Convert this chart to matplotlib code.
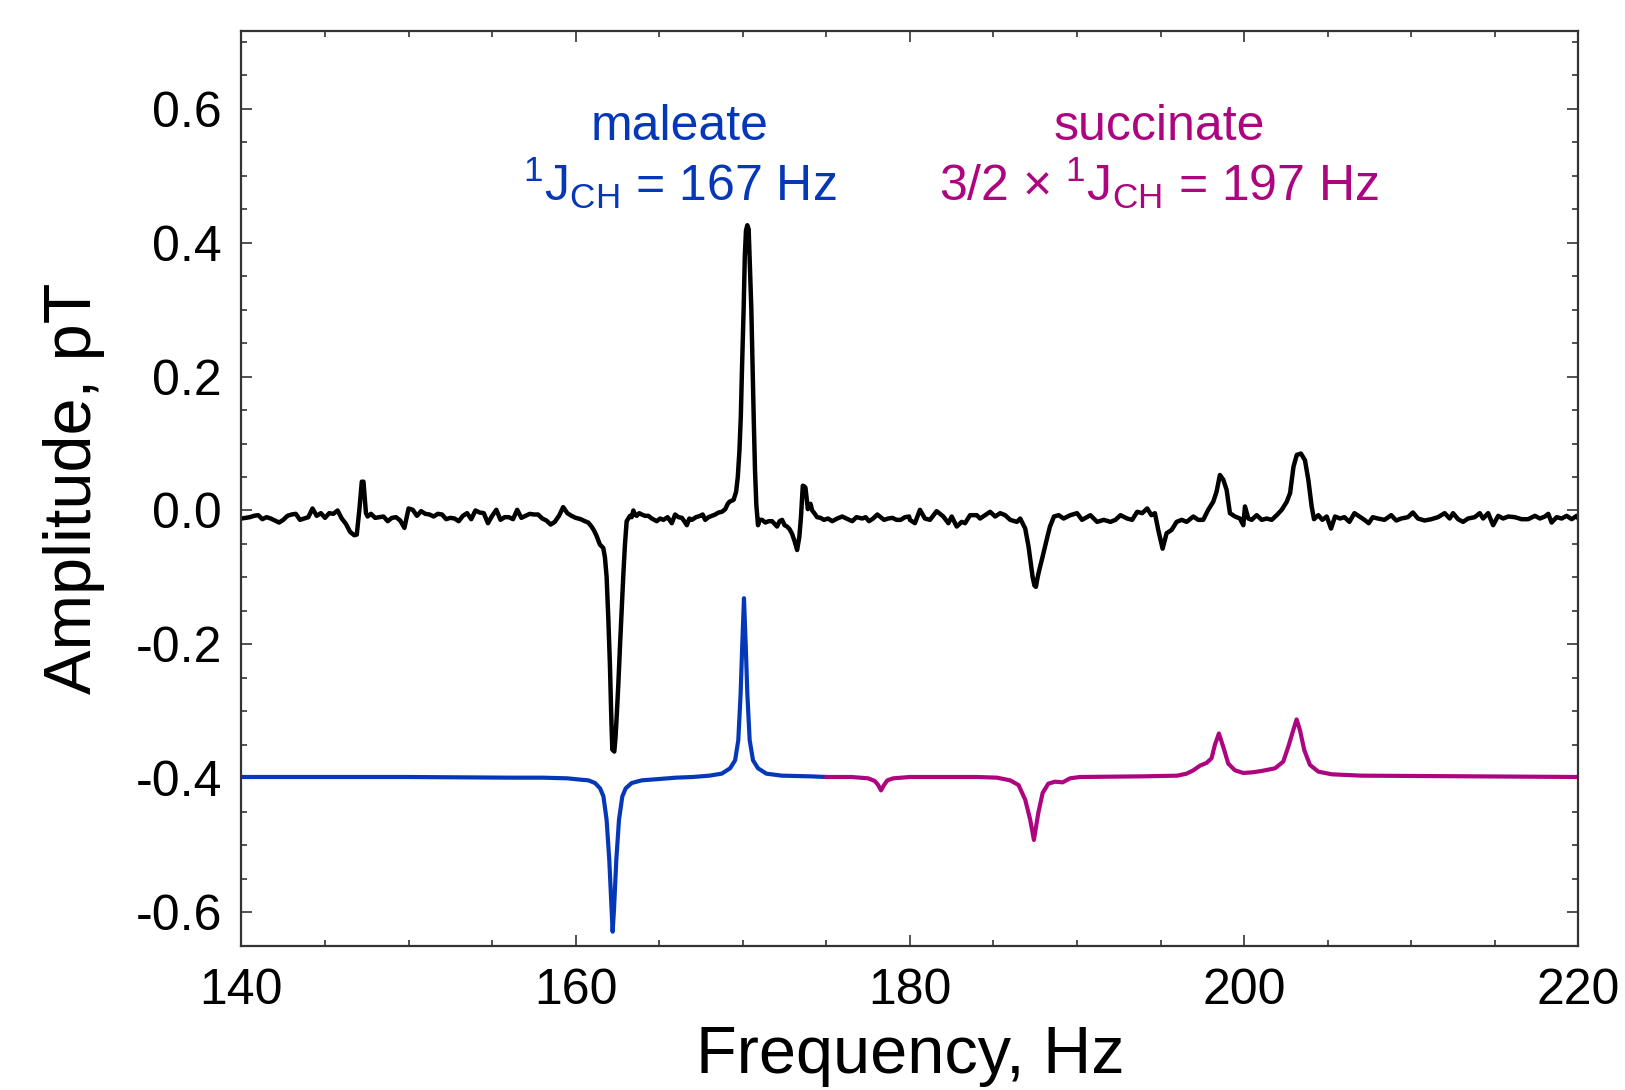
import matplotlib
matplotlib.use('Agg')
import matplotlib.pyplot as plt
from matplotlib.ticker import MultipleLocator

plt.rcParams['font.family'] = ['Liberation Sans', 'DejaVu Sans']
plt.rcParams['mathtext.fontset'] = 'custom'
plt.rcParams['mathtext.rm'] = 'Liberation Sans'
plt.rcParams['mathtext.it'] = 'Liberation Sans'

## measured spectrum (black) ##
black_freq = [
    140.00, 140.25, 140.50, 140.75, 141.00, 141.25, 141.50, 141.75, 142.00, 142.25,
    142.50, 142.75, 143.00, 143.25, 143.50, 143.75, 144.00, 144.25, 144.50, 144.75,
    145.00, 145.25, 145.50, 145.75, 146.00, 146.25, 146.50, 146.75, 146.90, 147.05,
    147.20, 147.30, 147.45, 147.55, 147.75, 148.00, 148.25, 148.50, 148.75, 149.00,
    149.25, 149.50, 149.75, 150.00, 150.25, 150.50, 150.75, 151.00, 151.25, 151.50,
    151.75, 152.00, 152.25, 152.50, 152.75, 153.00, 153.25, 153.50, 153.75, 154.00,
    154.25, 154.50, 154.75, 155.00, 155.25, 155.50, 155.75, 156.00, 156.25, 156.50,
    156.75, 157.00, 157.25, 157.50, 157.75, 158.00, 158.25, 158.50, 158.75, 159.00,
    159.25, 159.50, 159.75,
    160.00, 160.30, 160.55, 160.75, 160.95, 161.10, 161.25, 161.45, 161.65, 161.75,
    161.85, 161.95, 162.05, 162.12, 162.19, 162.31, 162.38, 162.45, 162.55, 162.65,
    162.75, 162.85, 162.95, 163.05, 163.15, 163.25, 163.35, 163.45, 163.55, 163.65,
    163.80, 163.95, 164.15, 164.35, 164.55, 164.85, 165.05, 165.25, 165.50, 165.75,
    165.95, 166.15, 166.35, 166.50, 166.65, 166.80, 166.95, 167.20, 167.45, 167.60,
    167.75, 167.95, 168.15, 168.35, 168.55, 168.75, 168.95, 169.10, 169.20, 169.45,
    169.60, 169.70, 169.80, 169.88, 169.95, 170.05, 170.12, 170.19, 170.27, 170.35,
    170.43, 170.51, 170.58, 170.65, 170.73, 170.81, 170.91, 171.00, 171.15, 171.35,
    171.55, 171.75, 171.90, 172.05, 172.20, 172.35, 172.50, 172.65, 172.80, 172.95,
    173.10, 173.25, 173.38, 173.48, 173.59, 173.68, 173.75, 173.89, 173.97, 174.05,
    174.15, 174.25, 174.45, 174.65, 174.85, 175.10, 175.35, 175.65, 175.95, 176.20,
    176.55, 176.80, 177.15, 177.35, 177.55, 177.80, 178.05, 178.25, 178.45, 178.70,
    178.95, 179.20, 179.45, 179.70, 179.95,
    180.00, 180.30, 180.60, 180.90, 181.20, 181.60, 182.00, 182.30, 182.50, 182.80,
    183.10, 183.30, 183.60, 184.00, 184.20, 184.50, 184.80, 185.10, 185.40, 185.70,
    186.00, 186.40, 186.60, 186.90, 187.10, 187.34, 187.45, 187.54, 187.64, 187.74,
    187.94, 188.18, 188.38, 188.62, 188.90, 189.20, 189.60, 190.00, 190.30, 190.80,
    191.20, 191.60, 192.00, 192.30, 192.60, 193.00, 193.30, 193.60, 193.90, 194.20,
    194.45, 194.66, 194.86, 195.12, 195.36, 195.66, 195.96, 196.26, 196.56, 196.96,
    197.25, 197.55, 197.85, 198.15, 198.35, 198.55, 198.75, 198.95, 199.15, 199.45,
    199.75, 199.95, 200.05,
    200.25, 200.45, 200.75, 201.05, 201.35, 201.65, 201.95, 202.25, 202.55, 202.75,
    202.95, 203.15, 203.40, 203.64, 203.84, 204.04, 204.18, 204.44, 204.68, 204.94,
    205.20, 205.44, 205.74, 206.00, 206.30, 206.60, 206.90, 207.20, 207.45, 207.70,
    208.00, 208.40, 208.80, 209.10, 209.40, 209.80, 210.10, 210.40, 210.80, 211.20,
    211.60, 212.00, 212.30, 212.50, 212.80, 213.10, 213.40, 213.80, 214.10, 214.30,
    214.60, 214.90, 215.20, 215.50, 215.80, 216.20, 216.60, 217.00, 217.40, 217.70,
    218.00, 218.20, 218.40, 218.70, 219.00, 219.30, 219.60, 219.90, 220.00]
black_amp = [
    -0.012, -0.011, -0.010, -0.008, -0.007, -0.013, -0.010, -0.012, -0.015, -0.018,
    -0.014, -0.008, -0.006, -0.005, -0.014, -0.012, -0.010, 0.003, -0.008, -0.004,
    -0.011, -0.004, -0.005, 0.000, -0.012, -0.020, -0.032, -0.037, -0.036, 0.000,
    0.043, 0.043, -0.004, -0.009, -0.005, -0.011, -0.010, -0.009, -0.016, -0.011,
    -0.010, -0.015, -0.026, 0.003, 0.001, -0.008, -0.001, -0.005, -0.006, -0.009,
    -0.005, -0.006, -0.013, -0.011, -0.012, -0.016, -0.008, -0.004, -0.013, 0.000,
    -0.003, -0.004, -0.019, -0.008, 0.001, -0.014, -0.010, -0.010, -0.013, 0.001,
    -0.011, -0.008, -0.005, -0.006, -0.006, -0.012, -0.015, -0.021, -0.017, -0.008,
    0.005, -0.004, -0.008,
    -0.011, -0.013, -0.016, -0.018, -0.024, -0.030, -0.038, -0.051, -0.056, -0.070,
    -0.099, -0.160, -0.232, -0.300, -0.357, -0.360, -0.340, -0.309, -0.260, -0.203,
    -0.150, -0.096, -0.050, -0.016, -0.012, -0.008, -0.010, 0.000, -0.006, -0.008,
    -0.004, -0.006, -0.008, -0.008, -0.012, -0.016, -0.012, -0.014, -0.010, -0.019,
    -0.006, -0.010, -0.011, -0.016, -0.022, -0.012, -0.014, -0.010, -0.008, -0.006,
    -0.014, -0.010, -0.008, -0.006, -0.003, -0.002, 0.002, 0.010, 0.013, 0.016,
    0.028, 0.050, 0.090, 0.140, 0.210, 0.301, 0.380, 0.418, 0.426, 0.420,
    0.360, 0.301, 0.220, 0.141, 0.060, 0.008, -0.022, -0.014, -0.014, -0.018,
    -0.016, -0.016, -0.020, -0.024, -0.016, -0.014, -0.022, -0.024, -0.028, -0.035,
    -0.046, -0.059, -0.040, -0.010, 0.037, 0.036, 0.034, 0.002, 0.008, 0.010,
    0.000, -0.003, -0.010, -0.011, -0.014, -0.012, -0.016, -0.012, -0.009, -0.012,
    -0.016, -0.010, -0.012, -0.010, -0.016, -0.012, -0.006, -0.010, -0.014, -0.012,
    -0.011, -0.014, -0.014, -0.010, -0.009,
    -0.014, -0.019, 0.001, -0.012, -0.014, -0.001, -0.009, -0.019, -0.009, -0.024,
    -0.017, -0.019, -0.007, -0.007, -0.012, -0.007, -0.002, -0.009, -0.004, -0.007,
    -0.014, -0.017, -0.012, -0.027, -0.054, -0.099, -0.112, -0.114, -0.100, -0.089,
    -0.069, -0.044, -0.024, -0.009, -0.007, -0.012, -0.007, -0.004, -0.014, -0.007,
    -0.017, -0.014, -0.017, -0.014, -0.007, -0.012, -0.014, -0.002, -0.004, 0.003,
    -0.007, -0.004, -0.029, -0.057, -0.034, -0.029, -0.017, -0.014, -0.017, -0.009,
    -0.014, -0.014, 0.001, 0.013, 0.028, 0.053, 0.046, 0.031, -0.004, -0.009,
    -0.012, -0.022, 0.006,
    -0.012, -0.014, -0.007, -0.014, -0.012, -0.014, -0.007, 0.001, 0.013, 0.026,
    0.065, 0.083, 0.085, 0.075, 0.046, 0.006, -0.013, -0.007, -0.014, -0.009,
    -0.027, -0.009, -0.012, -0.010, -0.017, -0.004, -0.009, -0.014, -0.019, -0.010,
    -0.012, -0.014, -0.007, -0.015, -0.012, -0.010, -0.003, -0.012, -0.015, -0.013,
    -0.010, -0.004, -0.012, -0.004, -0.013, -0.017, -0.012, -0.010, -0.004, -0.012,
    -0.004, -0.022, -0.008, -0.012, -0.009, -0.010, -0.013, -0.013, -0.008, -0.012,
    -0.009, -0.005, -0.018, -0.010, -0.012, -0.008, -0.013, -0.008, -0.012]

## simulated maleate (blue) ##
maleate_freq = [
    140.0, 150.0, 156.0, 158.0, 159.5, 160.3, 160.76, 161.16, 161.46, 161.66,
    161.85, 162.01, 162.15, 162.21, 162.29, 162.43, 162.59, 162.79, 162.99, 163.35,
    163.95, 165.0, 166.0, 167.0, 168.0, 168.74, 169.24, 169.54, 169.73, 169.87,
    169.97, 170.07, 170.17, 170.27, 170.41, 170.61, 170.91, 171.41, 172.33, 174.0,
    175.0]
maleate_amp = [
    -0.398, -0.398, -0.399, -0.399, -0.400, -0.402, -0.403, -0.407, -0.415, -0.427,
    -0.462, -0.522, -0.597, -0.629, -0.597, -0.522, -0.462, -0.427, -0.415, -0.407,
    -0.403, -0.401, -0.399, -0.398, -0.396, -0.393, -0.385, -0.373, -0.343, -0.273,
    -0.198, -0.131, -0.198, -0.273, -0.343, -0.373, -0.385, -0.393, -0.396, -0.397,
    -0.398]

## simulated succinate (magenta) ##
succinate_freq = [
    175.0, 176.5, 177.5, 177.9, 178.1, 178.27, 178.45, 178.65, 179.0, 180.0,
    184.0, 185.2, 186.0, 186.5, 186.9, 187.2, 187.42, 187.68, 187.94, 188.28,
    188.68, 189.14, 189.58, 190.17, 194.0, 196.0, 196.56, 196.96, 197.36, 197.75,
    198.05, 198.25, 198.49, 198.75, 199.05, 199.45, 199.95, 200.5, 201.05, 201.85,
    202.34, 202.64, 202.94, 203.14, 203.34, 203.6, 203.94, 204.44, 205.24, 207.03,
    220.0]
succinate_amp = [
    -0.398, -0.398, -0.400, -0.404, -0.410, -0.418, -0.410, -0.403, -0.400, -0.398,
    -0.398, -0.399, -0.403, -0.410, -0.432, -0.462, -0.492, -0.452, -0.422, -0.408,
    -0.405, -0.406, -0.400, -0.398, -0.397, -0.396, -0.393, -0.388, -0.381, -0.377,
    -0.370, -0.350, -0.333, -0.353, -0.378, -0.388, -0.392, -0.391, -0.389, -0.385,
    -0.375, -0.353, -0.328, -0.312, -0.328, -0.358, -0.380, -0.390, -0.394, -0.396,
    -0.398]

yticks = [-0.6, -0.4, -0.2, 0.0, 0.2, 0.4, 0.6]
ytick_labels = ['-0.6', '-0.4', '-0.2', '0.0', '0.2', '0.4', '0.6']
xticks = [140, 160, 180, 200, 220]

blue = '#0538b8'
magenta = '#ad0580'

fig = plt.figure(figsize=(16.25, 10.9), dpi=100)
ax = fig.add_axes([0.1486, 0.1321, 0.8227, 0.8395])

ax.plot(black_freq, black_amp, color='black', lw=3.2, solid_joinstyle='round')
ax.plot(maleate_freq, maleate_amp, color=blue, lw=3.0)
ax.plot(succinate_freq, succinate_amp, color=magenta, lw=3.0)

ax.set_xlim(140, 220)
ax.set_ylim(-0.6504, 0.7161)
ax.set_xticks(xticks)
ax.set_yticks(yticks)
ax.set_yticklabels(ytick_labels)
ax.xaxis.set_minor_locator(MultipleLocator(5))
ax.yaxis.set_minor_locator(MultipleLocator(0.05))
ax.tick_params(which='both', direction='in', top=True, right=True,
               color='#333333', width=1.2)
ax.tick_params(which='major', length=8, labelsize=36)
ax.tick_params(axis='x', which='major', pad=16)
ax.tick_params(axis='y', which='major', pad=14)
ax.tick_params(which='minor', length=4.5)
for sp in ax.spines.values():
    sp.set_color('#333333')
    sp.set_linewidth(1.6)

ax.set_xlabel('Frequency, Hz', fontsize=48, labelpad=8)
ax.set_ylabel('Amplitude, pT', fontsize=48, labelpad=22)

ax.text(166.2, 0.572, 'maleate', color=blue, fontsize=36, ha='center', va='center')
ax.text(166.2, 0.488, r'$^{1}\mathrm{J}_{\mathrm{CH}}$ = 167 Hz', color=blue,
        fontsize=36, ha='center', va='center')
ax.text(194.9, 0.572, 'succinate', color=magenta, fontsize=36, ha='center', va='center')
ax.text(194.9, 0.488, r'3/2 × $^{1}\mathrm{J}_{\mathrm{CH}}$ = 197 Hz', color=magenta,
        fontsize=36, ha='center', va='center')

fig.savefig('out.png', dpi=100)
